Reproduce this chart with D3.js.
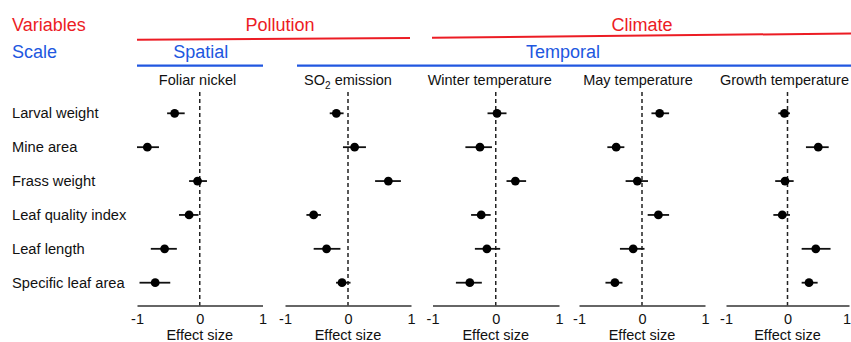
<!DOCTYPE html>
<html>
<head>
<meta charset="utf-8">
<script src="https://cdn.jsdelivr.net/npm/d3@7"></script>
<style>
  body { margin: 0; background: #fff; }
  svg { display: block; font-family: "Liberation Sans", Arial, sans-serif; }
</style>
</head>
<body>
<div id="chart"></div>
<script>
// response variables (rows)
var variables = ["Larval weight", "Mine area", "Frass weight", "Leaf quality index", "Leaf length", "Specific leaf area"];

// panel titles
var panelTitles = ["Foliar nickel", "SO2 emission", "Winter temperature", "May temperature", "Growth temperature"];

// effect sizes per panel: [estimate, lower CI, upper CI]
var foliarNickel = [[-0.40, -0.52, -0.24], [-0.835, -1.00, -0.65], [-0.035, -0.17, 0.115], [-0.17, -0.33, -0.02], [-0.56, -0.78, -0.365], [-0.71, -0.96, -0.47]];
var so2Emission = [[-0.185, -0.29, -0.07], [0.105, -0.08, 0.285], [0.64, 0.43, 0.84], [-0.545, -0.66, -0.43], [-0.34, -0.545, -0.12], [-0.095, -0.19, 0.04]];
var winterTemp = [[0.02, -0.13, 0.17], [-0.25, -0.48, -0.06], [0.31, 0.17, 0.48], [-0.23, -0.39, -0.08], [-0.14, -0.33, 0.07], [-0.41, -0.63, -0.22]];
var mayTemp = [[0.28, 0.15, 0.43], [-0.41, -0.55, -0.28], [-0.074, -0.26, 0.095], [0.26, 0.09, 0.43], [-0.14, -0.35, 0.04], [-0.43, -0.58, -0.31]];
var growthTemp = [[-0.05, -0.15, 0.04], [0.50, 0.30, 0.67], [-0.04, -0.20, 0.10], [-0.085, -0.23, 0.04], [0.46, 0.23, 0.70], [0.35, 0.23, 0.49]];

var xTicks = [-1, 0, 1];

var w = 851, h = 342;
var red = "#ec1c24", blue = "#2157e0";

var svg = d3.select("#chart").append("svg")
  .attr("width", w)
  .attr("height", h);

var panels = [foliarNickel, so2Emission, winterTemp, mayTemp, growthTemp];
var panelLeft = [137, 285, 432.5, 579, 726];
var panelRight = [262.5, 411, 559, 705, 849];
var axisY = 305.5;

var y = d3.scalePoint()
  .domain(variables)
  .range([113.3, 282.7]);

// header rows
svg.append("text").attr("x", 12).attr("y", 30.5).attr("font-size", "18px").attr("fill", red).text("Variables");
svg.append("text").attr("x", 12).attr("y", 58.3).attr("font-size", "18px").attr("fill", blue).text("Scale");

svg.append("text").attr("x", 280).attr("y", 30.5).attr("text-anchor", "middle").attr("font-size", "18px").attr("fill", red).text("Pollution");
svg.append("text").attr("x", 642).attr("y", 30.5).attr("text-anchor", "middle").attr("font-size", "18px").attr("fill", red).text("Climate");
svg.append("line").attr("x1", 137).attr("y1", 39.7).attr("x2", 410).attr("y2", 37.9)
  .attr("stroke", red).attr("stroke-width", 2);
svg.append("line").attr("x1", 432).attr("y1", 37.7).attr("x2", 851).attr("y2", 33.5)
  .attr("stroke", red).attr("stroke-width", 2);

svg.append("text").attr("x", 200.8).attr("y", 58.3).attr("text-anchor", "middle").attr("font-size", "18px").attr("fill", blue).text("Spatial");
svg.append("text").attr("x", 563).attr("y", 58.3).attr("text-anchor", "middle").attr("font-size", "18px").attr("fill", blue).text("Temporal");
svg.append("line").attr("x1", 137).attr("y1", 65.7).attr("x2", 263).attr("y2", 65.7)
  .attr("stroke", blue).attr("stroke-width", 2.2);
svg.append("line").attr("x1", 297).attr("y1", 65.7).attr("x2", 851).attr("y2", 65.7)
  .attr("stroke", blue).attr("stroke-width", 2.2);

// row labels
svg.selectAll("text.rowlab")
  .data(variables)
  .enter()
  .append("text")
  .attr("class", "rowlab")
  .attr("x", 12)
  .attr("y", function(d) { return y(d) + 5; })
  .attr("font-size", "14.7px")
  .attr("fill", "#111")
  .text(function(d) { return d; });

var titleX = [197.5, 348, 489.7, 638, 784.5];

panels.forEach(function(data, p) {
  var x = d3.scaleLinear()
    .domain([-1, 1])
    .range([panelLeft[p], panelRight[p]]);

  var g = svg.append("g");

  // title
  var t = g.append("text")
    .attr("x", titleX[p])
    .attr("y", 85)
    .attr("text-anchor", "middle")
    .attr("font-size", "14.5px")
    .attr("fill", "#111");
  if (p === 1) {
    t.append("tspan").text("SO");
    t.append("tspan").attr("font-size", "10px").attr("dy", 4).text("2");
    t.append("tspan").attr("dy", -4).text(" emission");
  } else {
    t.text(panelTitles[p]);
  }

  // zero line
  g.append("line")
    .attr("x1", x(0)).attr("x2", x(0))
    .attr("y1", 92).attr("y2", axisY)
    .attr("stroke", "#222")
    .attr("stroke-width", 1.5)
    .attr("stroke-dasharray", "4,3");

  // axis
  var axis = g.append("g")
    .attr("transform", "translate(0," + axisY + ")")
    .call(d3.axisBottom(x).tickValues(xTicks).tickFormat(d3.format("d")).tickSize(0).tickSizeOuter(0).tickPadding(8));
  axis.select(".domain").attr("stroke", "#333").attr("stroke-width", 1.6);
  axis.selectAll("text")
    .attr("font-size", "14.5px")
    .attr("font-family", "Liberation Sans, Arial, sans-serif")
    .attr("fill", "#111")
    .attr("dx", function(d) { return (p === 4 && d === 1) ? -2.5 : 0; })
    .text(function(d) { return d < 0 ? "-" + Math.abs(d) : d; });

  g.append("text")
    .attr("x", x(0))
    .attr("y", 340)
    .attr("text-anchor", "middle")
    .attr("font-size", "14.5px")
    .attr("fill", "#111")
    .text("Effect size");

  // error bars
  g.selectAll("line.ci")
    .data(data)
    .enter()
    .append("line")
    .attr("class", "ci")
    .attr("x1", function(d) { return x(d[1]); })
    .attr("x2", function(d) { return x(d[2]); })
    .attr("y1", function(d, i) { return y(variables[i]); })
    .attr("y2", function(d, i) { return y(variables[i]); })
    .attr("stroke", "#111")
    .attr("stroke-width", 1.8);

  g.selectAll("circle")
    .data(data)
    .enter()
    .append("circle")
    .attr("cx", function(d) { return x(d[0]); })
    .attr("cy", function(d, i) { return y(variables[i]); })
    .attr("r", 4.4)
    .attr("fill", "#000");
});
</script>
</body>
</html>
